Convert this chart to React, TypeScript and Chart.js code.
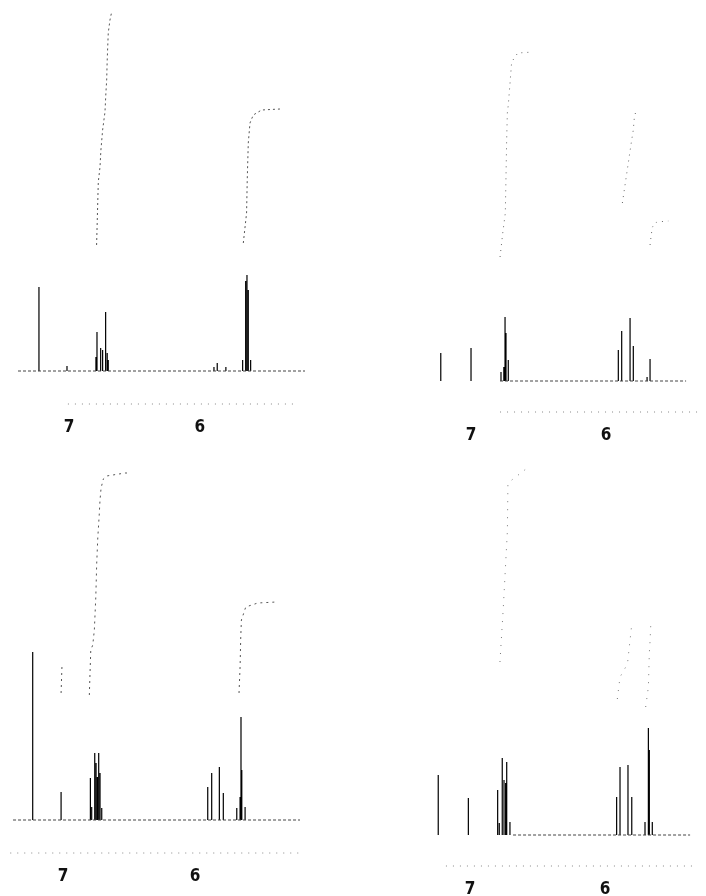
import React, { useEffect, useRef } from 'react';
import { Chart, registerables } from 'chart.js';

Chart.register(...registerables);

// ---- axis ticks (ppm) ----
const TICK_VALUES = [7, 6];
const TICK_LABELS = ['7', '6'];

// ---- Spectrum A (top left) ----
const A_RANGE = [7.389, 5.198];
const A_BASE = [7.389, 5.198];
const A_SCALE = [7.008, 5.252];
const A_PEAK_PPM = [7.229, 7.015, 6.794, 6.786, 6.758, 6.743, 6.720, 6.708, 6.700, 5.893, 5.868, 5.802, 5.674, 5.651, 5.641, 5.631, 5.613];
const A_PEAK_INT = [84, 5, 14, 39, 23, 21, 59, 18, 11, 4, 8, 4, 11, 90, 96, 81, 11];
const A_INT1_PPM = [6.789, 6.776, 6.763, 6.756, 6.743, 6.725, 6.718, 6.712, 6.708, 6.700, 6.687, 6.674];
const A_INT1_VAL = [126, 189, 204, 221, 241, 259, 278, 291, 311, 338, 351, 359];
const A_INT2_PPM = [5.669, 5.644, 5.639, 5.631, 5.618, 5.593, 5.529, 5.389];
const A_INT2_VAL = [128, 158, 191, 228, 248, 256, 261, 262];

// ---- Spectrum B (top right) ----
const B_RANGE = [7.289, 5.304];
const B_BASE = [6.785, 5.407];
const B_SCALE = [6.785, 5.304];
const B_PEAK_PPM = [7.224, 7.000, 6.778, 6.757, 6.748, 6.741, 6.724, 5.909, 5.884, 5.822, 5.798, 5.696, 5.674];
const B_PEAK_INT = [28, 33, 9, 14, 64, 48, 21, 31, 50, 63, 35, 4, 22];
const B_INT1_PPM = [6.785, 6.765, 6.746, 6.741, 6.736, 6.731, 6.724, 6.711, 6.699, 6.654, 6.539];
const B_INT1_VAL = [124, 148, 168, 204, 241, 268, 276, 298, 319, 328, 329];
const B_INT2_PPM = [5.879, 5.810, 5.798, 5.790, 5.780];
const B_INT2_VAL = [178, 241, 251, 264, 269];
const B_INT3_PPM = [5.674, 5.667, 5.657, 5.624, 5.539];
const B_INT3_VAL = [136, 144, 154, 159, 160];

// ---- Spectrum C (bottom left) ----
const C_RANGE = [7.402, 5.205];
const C_BASE = [7.379, 5.205];
const C_SCALE = [7.400, 5.212];
const C_PEAK_PPM = [7.230, 7.015, 6.793, 6.783, 6.760, 6.750, 6.740, 6.730, 6.720, 6.707, 5.904, 5.874, 5.816, 5.786, 5.684, 5.659, 5.652, 5.646, 5.621];
const C_PEAK_INT = [168, 28, 42, 13, 67, 57, 43, 67, 47, 12, 33, 47, 53, 27, 12, 23, 103, 50, 13];
const C_INT1_PPM = [7.015, 7.008];
const C_INT1_VAL = [127, 155];
const C_INT2_PPM = [6.801, 6.795, 6.790, 6.775, 6.763, 6.752, 6.745, 6.737, 6.727, 6.720, 6.712, 6.695, 6.670, 6.530, 6.505];
const C_INT2_VAL = [125, 150, 170, 175, 190, 223, 257, 282, 303, 320, 332, 341, 344, 347, 347];
const C_INT3_PPM = [5.667, 5.659, 5.654, 5.649, 5.641, 5.616, 5.525, 5.386];
const C_INT3_VAL = [127, 153, 182, 200, 203, 213, 217, 218];

// ---- Spectrum D (bottom right) ----
const D_RANGE = [7.296, 5.356];
const D_BASE = [6.681, 5.370];
const D_SCALE = [7.178, 5.356];
const D_PEAK_PPM = [7.235, 7.012, 6.795, 6.783, 6.761, 6.748, 6.736, 6.728, 6.704, 5.914, 5.889, 5.830, 5.802, 5.704, 5.679, 5.672, 5.650];
const D_PEAK_INT = [60, 37, 45, 12, 77, 55, 52, 73, 13, 38, 68, 70, 38, 13, 107, 85, 13];
const D_INT1_PPM = [6.778, 6.753, 6.723, 6.719, 6.576];
const D_INT1_VAL = [173, 228, 304, 352, 367];
const D_INT2_PPM = [5.909, 5.889, 5.834, 5.801];
const D_INT2_VAL = [136, 158, 171, 212];
const D_INT3_PPM = [5.699, 5.679, 5.672, 5.667, 5.661];
const D_INT3_VAL = [128, 148, 182, 193, 211];

const AXIS_H = 46;

type Pt = { x: number; y: number | null };

function sticks(ppm: number[], inten: number[]): Pt[] {
  const out: Pt[] = [];
  ppm.forEach((p, i) => {
    out.push({ x: p, y: 0 }, { x: p, y: inten[i] }, { x: p, y: null });
  });
  return out;
}

function curve(ppm: number[], vals: number[]): Pt[] {
  return ppm.map((p, i) => ({ x: p, y: vals[i] }));
}

type PanelDef = {
  left: number;
  top: number;
  width: number;
  height: number;
  yMin: number;
  yMax: number;
  range: number[];
  base: number[];
  scaleLine: number[];
  peaks: [number[], number[]];
  integrals: [number[], number[]][];
  intColor: string;
  intDash: number[];
};

const PANELS: PanelDef[] = [
  { left: 18, top: 0, width: 287, height: 404 + AXIS_H, yMin: -33, yMax: 371, range: A_RANGE, base: A_BASE, scaleLine: A_SCALE,
    peaks: [A_PEAK_PPM, A_PEAK_INT], integrals: [[A_INT1_PPM, A_INT1_VAL], [A_INT2_PPM, A_INT2_VAL]], intColor: '#555', intDash: [2, 3] },
  { left: 432, top: 0, width: 268, height: 412 + AXIS_H, yMin: -31, yMax: 381, range: B_RANGE, base: B_BASE, scaleLine: B_SCALE,
    peaks: [B_PEAK_PPM, B_PEAK_INT], integrals: [[B_INT1_PPM, B_INT1_VAL], [B_INT2_PPM, B_INT2_VAL], [B_INT3_PPM, B_INT3_VAL]], intColor: '#666', intDash: [1, 5] },
  { left: 10, top: 440, width: 290, height: 853 - 440 + AXIS_H, yMin: -33, yMax: 380, range: C_RANGE, base: C_BASE, scaleLine: C_SCALE,
    peaks: [C_PEAK_PPM, C_PEAK_INT], integrals: [[C_INT1_PPM, C_INT1_VAL], [C_INT2_PPM, C_INT2_VAL], [C_INT3_PPM, C_INT3_VAL]], intColor: '#555', intDash: [2, 4] },
  { left: 430, top: 440, width: 262, height: 866 - 440 + AXIS_H, yMin: -31, yMax: 395, range: D_RANGE, base: D_BASE, scaleLine: D_SCALE,
    peaks: [D_PEAK_PPM, D_PEAK_INT], integrals: [[D_INT1_PPM, D_INT1_VAL], [D_INT2_PPM, D_INT2_VAL], [D_INT3_PPM, D_INT3_VAL]], intColor: '#777', intDash: [1, 7] },
];

function Panel({ def }: { def: PanelDef }) {
  const ref = useRef<HTMLCanvasElement>(null);
  useEffect(() => {
    if (!ref.current) return;
    const datasets: any[] = [
      {
        data: curve(def.scaleLine, [def.yMin, def.yMin]),
        borderColor: '#888',
        borderWidth: 1,
        borderDash: [1, 6],
        pointRadius: 0,
        clip: false,
      },
      {
        data: curve(def.base, [0, 0]),
        borderColor: '#444',
        borderWidth: 1,
        borderDash: [3, 2],
        pointRadius: 0,
      },
      {
        data: sticks(def.peaks[0], def.peaks[1]),
        borderColor: '#000',
        borderWidth: 1.2,
        pointRadius: 0,
        spanGaps: false,
      },
      ...def.integrals.map(([p, v]) => ({
        data: curve(p, v),
        borderColor: def.intColor,
        borderWidth: 1,
        borderDash: def.intDash,
        pointRadius: 0,
      })),
    ];
    const chart = new Chart(ref.current, {
      type: 'line',
      data: { datasets },
      options: {
        animation: false,
        responsive: false,
        maintainAspectRatio: false,
        layout: { padding: 0 },
        plugins: { legend: { display: false }, tooltip: { enabled: false }, title: { display: false } },
        elements: { line: { tension: 0 } },
        scales: {
          x: {
            type: 'linear',
            reverse: true,
            min: Math.min(def.range[0], def.range[1]),
            max: Math.max(def.range[0], def.range[1]),
            grid: { display: false, drawTicks: false },
            border: { display: false },
            afterBuildTicks: (scale: any) => {
              scale.ticks = TICK_VALUES.map((v) => ({ value: v }));
            },
            afterFit: (scale: any) => {
              scale.height = AXIS_H;
            },
            ticks: {
              padding: 13,
              color: '#111',
              maxRotation: 0,
              font: { family: '"Liberation Sans Narrow", "DejaVu Sans Condensed", "DejaVu Sans", sans-serif', size: 17, weight: 'bold' },
              callback: (value: any) => {
                const i = TICK_VALUES.indexOf(Number(value));
                return i >= 0 ? TICK_LABELS[i] : '';
              },
            },
          },
          y: {
            type: 'linear',
            display: false,
            min: def.yMin,
            max: def.yMax,
          },
        },
      },
    });
    return () => chart.destroy();
  }, [def]);
  return (
    <canvas
      ref={ref}
      width={def.width}
      height={def.height}
      style={{ position: 'absolute', left: def.left, top: def.top, width: def.width, height: def.height }}
    />
  );
}

export default function App() {
  return (
    <div style={{ position: 'fixed', left: 0, top: 0, width: 706, height: 896, background: '#fff', overflow: 'hidden' }}>
      {PANELS.map((d, i) => (
        <Panel key={i} def={d} />
      ))}
    </div>
  );
}
